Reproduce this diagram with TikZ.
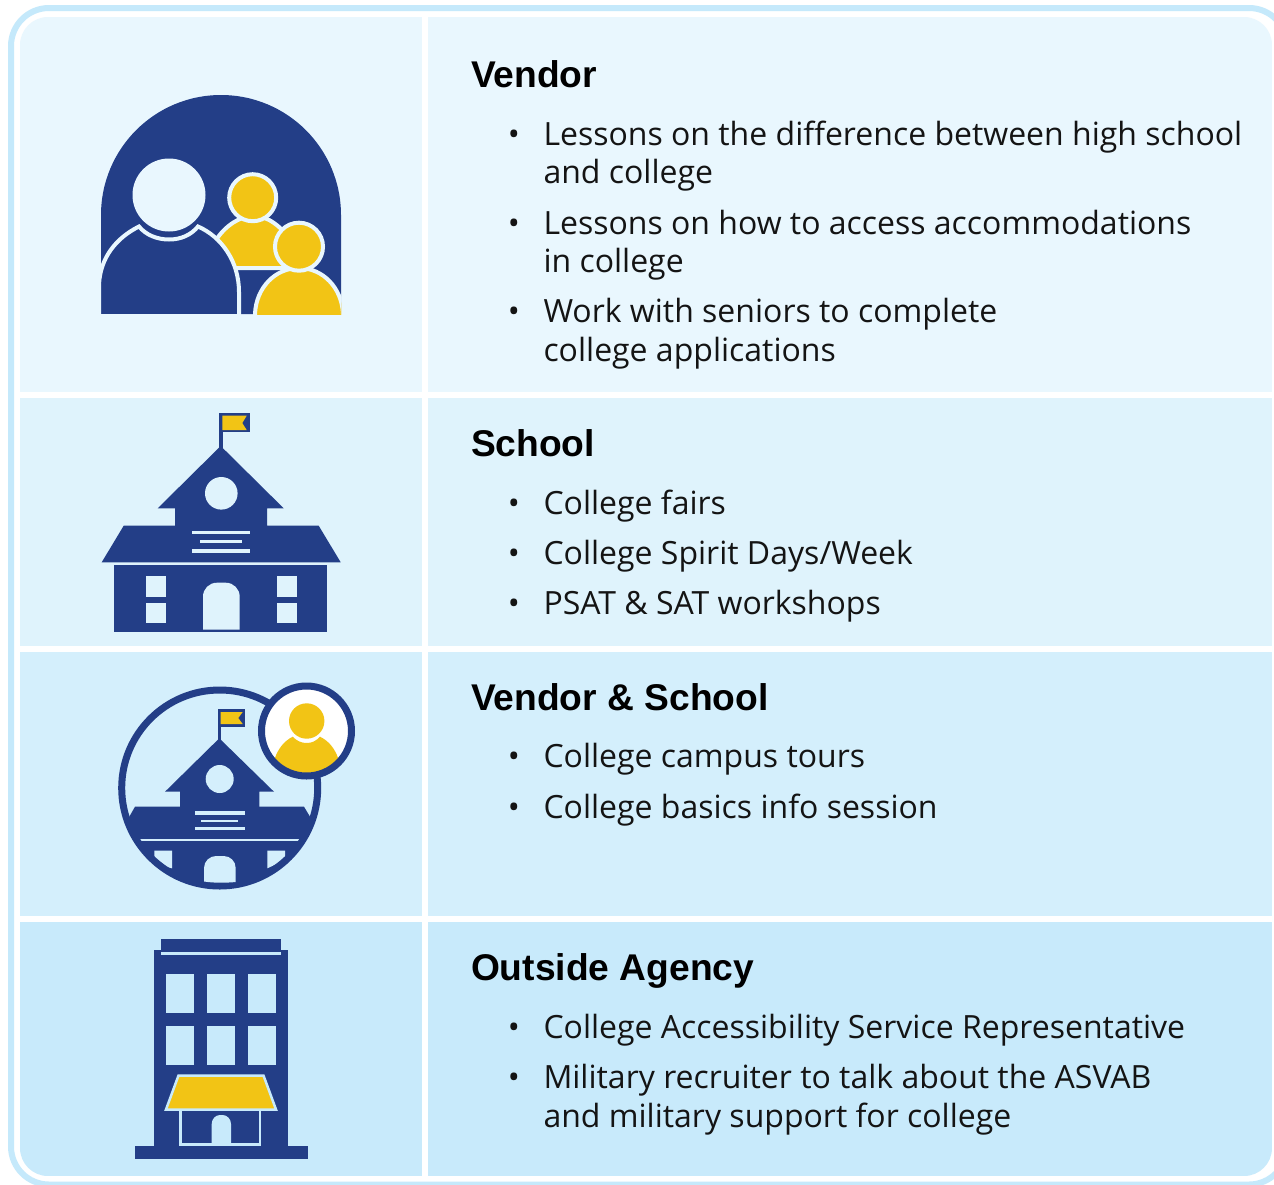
\documentclass[tikz,border=0pt]{standalone}
\usepackage{fontspec}
\setmainfont{Open Sans}
\newfontfamily\headfont{Liberation Sans}[BoldFont={Liberation Sans Bold}]
\definecolor{navy}{HTML}{233E87}
\definecolor{gold}{HTML}{F2C415}
\definecolor{rimblue}{HTML}{C5E9FB}
\definecolor{rowa}{HTML}{E9F7FE}
\definecolor{rowb}{HTML}{DFF3FC}
\definecolor{rowc}{HTML}{D4EFFC}
\definecolor{rowd}{HTML}{C8EAFB}
\tikzset{
  x=0.5pt,y=-0.5pt,
  heading/.style={anchor=base west,inner sep=0pt,outer sep=0pt,font=\headfont\bfseries\fontsize{18.6pt}{22pt}\selectfont,text=black},
  body/.style={anchor=base west,inner sep=0pt,outer sep=0pt,font=\fontsize{16pt}{20pt}\selectfont,text=black!92},
  bullet/.style={anchor=base,inner sep=0pt,outer sep=0pt,font=\fontsize{16pt}{20pt}\selectfont,text=black!92},
}
\begin{document}
\begin{tikzpicture}
\useasboundingbox (0,0) rectangle (1274,1184);
\fill[white] (0,0) rectangle (1274,1184);
% outer rim
\begin{scope}
\clip (0,0) rectangle (1274,1184);
\draw[rimblue,line width=3pt,rounded corners=19pt] (11,8) rectangle (1287,1184.5);
\end{scope}
% panels
\begin{scope}
\clip[rounded corners=14pt] (20,17) rectangle (1272,1176);
\fill[rowa] (20,17) rectangle (422,392);
\fill[rowa] (428,17) rectangle (1272,392);
\fill[rowb] (20,398) rectangle (422,646);
\fill[rowb] (428,398) rectangle (1272,646);
\fill[rowc] (20,652) rectangle (422,916);
\fill[rowc] (428,652) rectangle (1272,916);
\fill[rowd] (20,922) rectangle (422,1176);
\fill[rowd] (428,922) rectangle (1272,1176);
\end{scope}
% --- icon 1: people
\fill[navy] (101,314) -- (101,215) .. controls (101,148.7) and (154.7,95) .. (221,95) .. controls (287.3,95) and (341,148.7) .. (341,215) -- (341,314) -- cycle;
\begin{scope}[line width=2pt]
\draw[fill=gold,draw=rowa] (210,268) -- (216,240) .. controls (225,226) and (240,216) .. (253,216) .. controls (268,216) and (280,225) .. (295,245) -- (295,268) -- cycle;
\draw[fill=gold,draw=rowa] (252.7,197.7) circle[radius=23.5];
\draw[fill=navy,draw=rowa] (99,316) -- (99,285) .. controls (100,258) and (116,238) .. (139,226.5) .. controls (146,235) and (157,239.5) .. (169,239.5) .. controls (181,239.5) and (191,235) .. (198,226.5) .. controls (222,237) and (239,262) .. (239,292) -- (239,316) -- cycle;
\fill[rowa] (169,195) circle[radius=36.5];
\begin{scope}
\clip (240,260) rectangle (341.7,314);
\draw[fill=gold,draw=rowa] (255,320) -- (255,314) .. controls (256,288) and (275,268) .. (299,268) .. controls (323,268) and (342,288) .. (343,314) -- (343,320) -- cycle;
\end{scope}
\draw[fill=gold,draw=rowa] (299,246.7) circle[radius=24];
\end{scope}
% --- icon 2: school
\fill[navy] (219.3,412.7) rectangle (250,432.3);
\fill[navy] (219.3,412.7) rectangle (222.7,450);
\fill[gold] (222.3,415.7) -- (246.7,415.7) -- (242.3,423) -- (246.7,430) -- (222.3,430) -- cycle;
\fill[navy] (220.7,446) -- (157.7,508.3) -- (175,508.3) -- (175,525.7) -- (123.7,525.7) -- (101.7,562.3) -- (340.7,562.3) -- (318.7,525.7) -- (267,525.7) -- (267,508.3) -- (283.7,508.3) -- cycle;
\fill[rowb] (221.3,493.3) circle[radius=16.3];
\fill[rowb] (192.3,531) rectangle (250,534.3);
\fill[rowb] (200,540.3) rectangle (242.3,543);
\fill[rowb] (192.3,549) rectangle (250,552.7);
\fill[navy] (114.3,565.3) rectangle (326.7,632);
\fill[rowb] (146,576.3) rectangle (166,596.7);
\fill[rowb] (146,603.3) rectangle (166,623.3);
\fill[rowb] (276.7,576.3) rectangle (296.7,596.7);
\fill[rowb] (276.7,603.3) rectangle (296.7,623.3);
\fill[rowb] (203,629.7) -- (203,596.7) .. controls (203,589) and (209,582.7) .. (217,582.7) -- (225.7,582.7) .. controls (233.7,582.7) and (239.7,589) .. (239.7,596.7) -- (239.7,629.7) -- cycle;
% --- icon 3: school in a circle
\begin{scope}
\clip (219.7,788) circle[radius=99];
\fill[navy] (180,806.7) -- (135,806.7) -- (129.3,816.7) -- (100,900) -- (340,900) -- (310,816.7) -- (304,806.7) -- (259.3,806.7) -- cycle;
\fill[rowc] (140,838.7) rectangle (299.3,841.3);
\fill[rowc] (154.3,850.7) -- (172,850.7) -- (172,868.3) -- (166.7,867) -- (154.3,857.7) -- cycle;
\fill[rowc] (267.3,850.7) -- (285,850.7) -- (285,857.7) -- (276.7,864) -- (267.3,868.3) -- cycle;
\end{scope}
\draw[navy,line width=3.5pt] (219.7,788) circle[radius=98];
\fill[navy] (218,709.3) rectangle (244.7,726.7);
\fill[navy] (218,709.3) rectangle (220.7,742);
\fill[gold] (220.7,712) -- (242.7,712) -- (238.3,718) -- (242.7,724) -- (220.7,724) -- cycle;
\fill[navy] (219.3,738.3) -- (165,791.7) -- (180,791.7) -- (180,810) -- (259.3,810) -- (259.3,791.7) -- (274,791.7) -- cycle;
\fill[rowc] (219.7,779) circle[radius=14];
\fill[rowc] (195,811.3) rectangle (244.7,814.7);
\fill[rowc] (201.3,819.7) rectangle (238,822);
\fill[rowc] (195,827) rectangle (244.7,830.3);
\fill[rowc] (204,881.5) -- (204,868) .. controls (204,861) and (210,856) .. (216,856) -- (223.7,856) .. controls (230,856) and (235.7,861) .. (235.7,868) -- (235.7,882) .. controls (225,883) and (214,883) .. (204,881.5) -- cycle;
\fill[white] (306.5,731) circle[radius=45];
\begin{scope}
\clip (306.5,731) circle[radius=44];
\fill[gold] (270,790) -- (275,758) .. controls (278,749) and (284,741) .. (292.7,736.7) .. controls (297,741) and (301,743) .. (306.7,743) .. controls (312,743) and (316,741) .. (320,736.7) .. controls (329,741) and (335,749) .. (338,758) -- (342,790) -- cycle;
\end{scope}
\fill[gold] (306.7,721) circle[radius=17.7];
\draw[navy,line width=3.5pt] (306.5,731) circle[radius=45];
% --- icon 4: office building
\fill[navy] (154.3,950.3) rectangle (287.7,1150);
\fill[navy] (161,939) rectangle (281,952.3);
\fill[rowd] (161,952.3) rectangle (281,955);
\fill[navy] (135,1146) rectangle (308,1158.7);
\foreach \wx/\wy in {166/194,207/235,248/275.7}{
  \fill[rowd] (\wx,974.3) rectangle (\wy,1013.3);
  \fill[rowd] (\wx,1026) rectangle (\wy,1064.7);
}
\draw[rowd,line width=1.25pt] (180.5,1109) -- (180.5,1144.5) -- (260,1144.5) -- (260,1109);
\fill[rowd] (211.7,1145) -- (211.7,1124) .. controls (211.7,1119) and (215.5,1115) .. (220,1115) -- (222.7,1115) .. controls (227,1115) and (231,1119) .. (231,1124) -- (231,1145) -- cycle;
\draw[rowd,fill=gold,line width=1.25pt] (178.5,1075.5) -- (263.5,1075.5) -- (276,1109.5) -- (166,1109.5) -- cycle;
% --- texts
\node[heading] (hVendor) at (471,87) {Vendor};
\node[bullet] (b1) at (514,145) {•};
\node[body] (t1a) at (543.5,145) {Lessons on the difference between high school};
\node[body] (t1b) at (543.5,183) {and college};
\node[bullet] (b2) at (514,234) {•};
\node[body] (t2a) at (543.5,234) {Lessons on how to access accommodations};
\node[body] (t2b) at (543.5,272) {in college};
\node[bullet] (b3) at (514,322) {•};
\node[body] (t3a) at (543.5,322) {Work with seniors to complete};
\node[body] (t3b) at (543.5,361) {college applications};
\node[heading] (hSchool) at (471,456) {School};
\node[bullet] (b4) at (514,514) {•};
\node[body] (t4) at (543.5,514) {College fairs};
\node[bullet] (b5) at (514,564) {•};
\node[body] (t5) at (543.5,564) {College Spirit Days/Week};
\node[bullet] (b6) at (514,614) {•};
\node[body] (t6) at (543.5,614) {PSAT \& SAT workshops};
\node[heading] (hBoth) at (471,710) {Vendor \& School};
\node[bullet] (b7) at (514,767) {•};
\node[body] (t7) at (543.5,767) {College campus tours};
\node[bullet] (b8) at (514,818) {•};
\node[body] (t8) at (543.5,818) {College basics info session};
\node[heading] (hAgency) at (471,980) {Outside Agency};
\node[bullet] (b9) at (514,1038) {•};
\node[body] (t9) at (543.5,1038) {College Accessibility Service Representative};
\node[bullet] (b10) at (514,1088) {•};
\node[body] (t10a) at (543.5,1088) {Military recruiter to talk about the ASVAB};
\node[body] (t10b) at (543.5,1127) {and military support for college};
\end{tikzpicture}
\end{document}
